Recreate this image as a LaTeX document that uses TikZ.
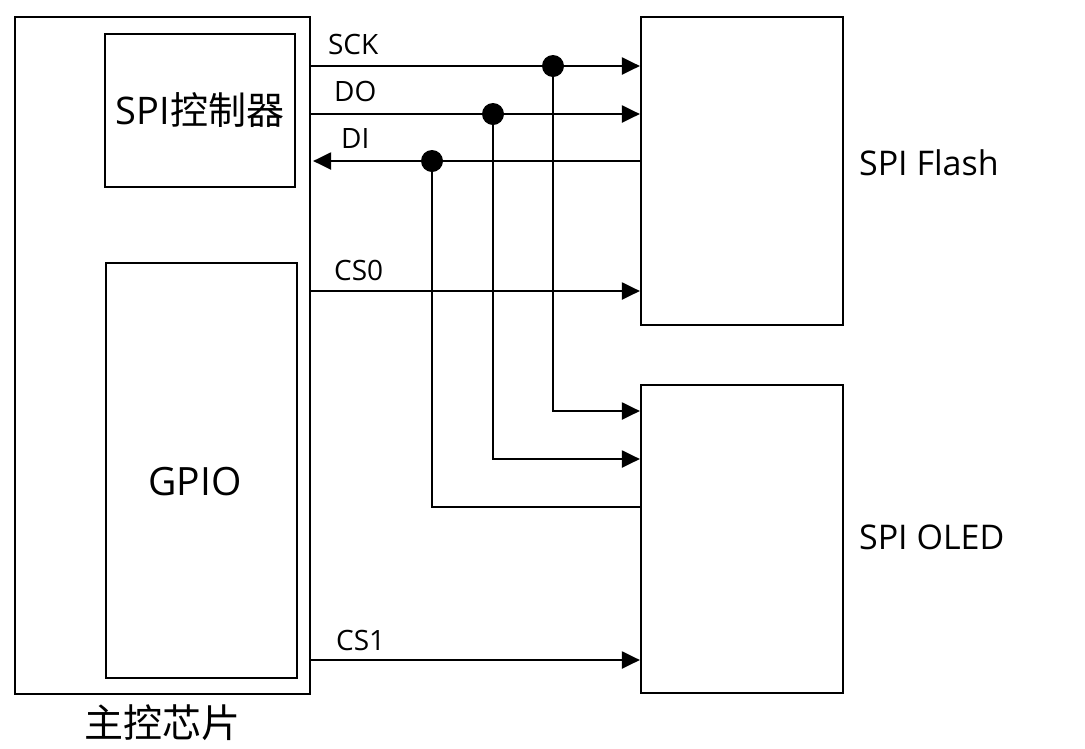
\documentclass[tikz,border=0pt]{standalone}
\usepackage{fontspec}
\setmainfont{Open Sans}
\newfontfamily\cjk{Noto Sans CJK SC}
\usetikzlibrary{arrows.meta,positioning}

\begin{document}
\begin{tikzpicture}[x=1pt,y=-1pt,->,>={Triangle[length=18pt,width=17pt]},
                    line width=2.2pt]
		  \tikzstyle{box}=[draw=black,rectangle,inner sep=0pt,
		                   font=\fontsize{38}{44}\selectfont]
		  \tikzstyle{sig}=[anchor=west,inner sep=0pt,font=\fontsize{28}{32}\selectfont]
		  \tikzstyle{dev}=[anchor=west,inner sep=0pt,font=\fontsize{34}{38}\selectfont]
		  \tikzstyle{dot}=[circle,fill=black,inner sep=0pt,minimum size=22pt]

		  \useasboundingbox (0,0) rectangle (1085,748);

		  \node[box, minimum width=295pt, minimum height=677pt] (chip)  at (162.5,355.5) {};
		  \node[box, minimum width=190pt, minimum height=153pt] (spi)   at (200,110.5) {SPI{\cjk 控制器}};
		  \node[box, minimum width=191pt, minimum height=415pt] (gpio)  at (201.5,470.5) {};
		  \node[inner sep=0pt, font=\fontsize{39}{44}\selectfont] (gpiot) at (195,482) {GPIO};
		  \node[inner sep=0pt, font=\fontsize{39}{44}\cjk] (chipt) [below=8pt of chip] {主控芯片};

		  \node[box, minimum width=202pt, minimum height=308pt] (flash) at (742,171) {};
		  \node[box, minimum width=202pt, minimum height=308pt] (oled)  at (742,539) {};
		  \node[dev] (flasht) at (858,163) {SPI Flash};
		  \node[dev] (oledt)  at (858,537) {SPI OLED};

		  % junctions
		  \coordinate (jsck) at (553,66);
		  \coordinate (jdo)  at (493,114);
		  \coordinate (jdi)  at (432,161);

		  \path (jsck -| chip.east) edge (jsck -| flash.west)
		  (jdo -| chip.east) edge (jdo -| flash.west)
		  (jdi -| flash.west) edge ([xshift=2pt]jdi -| chip.east)
		  (chip.east |- 0,291) edge (flash.west |- 0,291)
		  (chip.east |- 0,660) edge (oled.west |- 0,660);

		  \draw (jsck) |- (oled.west |- 0,411);
		  \draw (jdo)  |- (oled.west |- 0,459);
		  \draw[-] (jdi)  |- (oled.west |- 0,507);

		  \node[dot] at (jsck) {};
		  \node[dot] at (jdo)  {};
		  \node[dot] at (jdi)  {};

		  \node[sig] (sck) at (327,44)  {SCK};
		  \node[sig] (do)  at (333,91)  {DO};
		  \node[sig] (di)  at (340,138) {DI};
		  \node[sig] (cs0) at (333,270) {CS0};
		  \node[sig] (cs1) at (335,640) {CS1};
\end{tikzpicture}
\end{document}
